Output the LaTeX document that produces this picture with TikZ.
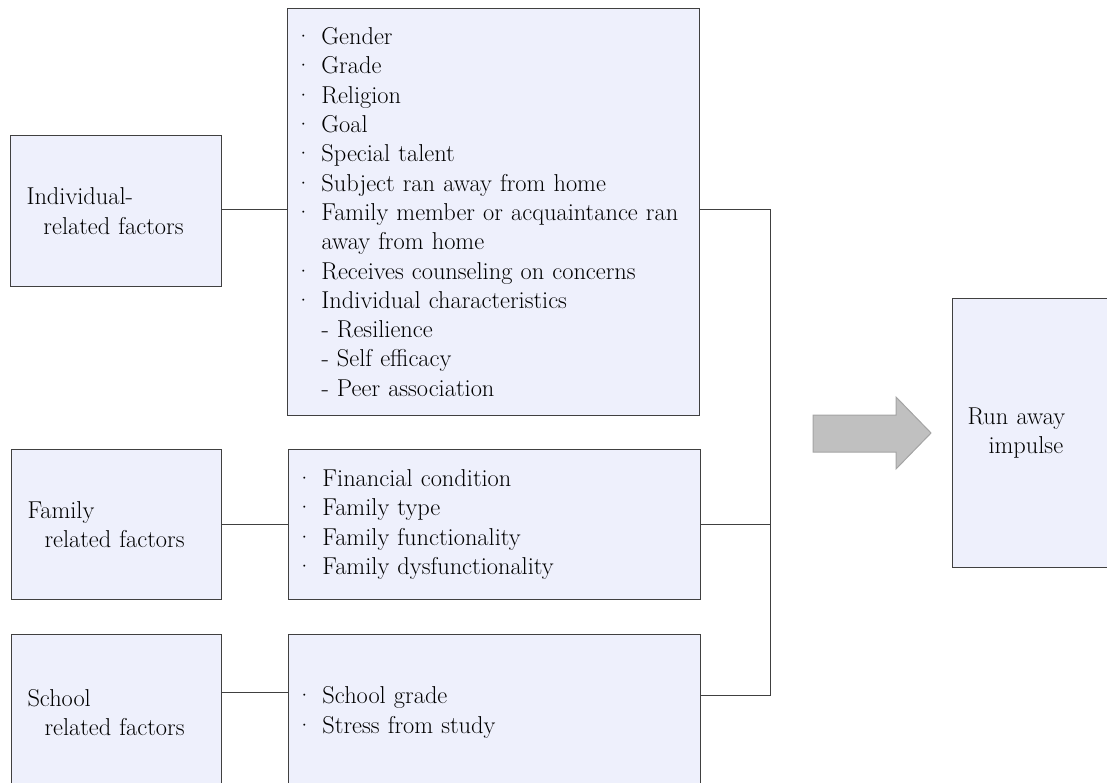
\documentclass[tikz,border=0pt]{standalone}
\definecolor{boxfill}{HTML}{EEF0FC}
\definecolor{boxline}{HTML}{404040}
\definecolor{arrowfill}{HTML}{C0C0C0}
\definecolor{arrowline}{HTML}{A4A4A4}
\newcommand{\itm}[1]{\makebox[4pt][c]{\textperiodcentered}\hspace{16pt}#1}
\newcommand{\subitm}[1]{\hspace*{20pt}#1}
\tikzset{factor box/.style={
		draw=boxline, fill=boxfill, line width=1pt,
		anchor=north west, align=left,
		inner xsep=16pt, inner ysep=0pt,
		font=\fontsize{24.4}{29.3}\selectfont
	},
	list box/.style={factor box, inner xsep=14pt, text width=384pt}
}

\begin{document}
\begin{tikzpicture}[x=1pt, y=-1pt]
		\useasboundingbox (0,0) rectangle (1107,783);
		% left column
		\node [factor box, text width=179pt, minimum height=151pt] (ind) at (10,135) {Individual-\\\hspace*{17pt}related factors};
		\node [factor box, text width=178pt, minimum height=150pt] (fam) at (11,449) {Family\\\hspace*{17pt}related factors};
		\node [factor box, text width=178pt, minimum height=156pt] (sch) at (11,634) {School\\\hspace*{17pt}related factors};
		% lists
		\node [list box, minimum height=407pt] (indlist) at (287,8) {\itm{Gender}\\\itm{Grade}\\\itm{Religion}\\\itm{Goal}\\\itm{Special talent}\\\itm{Subject ran away from home}\\\itm{Family member or acquaintance ran}\\\subitm{away from home}\\\itm{Receives counseling on concerns}\\\itm{Individual characteristics}\\\subitm{- Resilience}\\\subitm{- Self efficacy}\\\subitm{- Peer association}};
		\node [list box, minimum height=150pt] (famlist) at (288,449) {\itm{Financial condition}\\\itm{Family type}\\\itm{Family functionality}\\\itm{Family dysfunctionality}};
		\node [list box, minimum height=156pt] (schlist) at (288,634) {\itm{School grade}\\\itm{Stress from study}};
		% outcome
		\node [factor box, inner xsep=15pt, text width=140pt, minimum height=269pt] (run) at (952,298) {Run away\\\hspace*{21pt}impulse};
		\coordinate (jtop) at (770,210);
		\coordinate (jbot) at (770,695);
		\coordinate (schmid) at (0,692);
		\draw [boxline, line width=1pt] (ind.east |- jtop) -- (indlist.west |- jtop);
		\draw [boxline, line width=1pt] (fam.east) -- (famlist.west |- fam.east);
		\draw [boxline, line width=1pt] (sch.east |- schmid) -- (schlist.west |- schmid);
		\draw [boxline, line width=1pt] (indlist.east |- jtop) -- (jtop) -- (jbot) -- (schlist.east |- jbot);
		\draw [boxline, line width=1pt] (famlist.east |- fam.east) -- (jtop |- fam.east);
		% block arrow
		\draw [arrowline, fill=arrowfill, line width=1pt, line join=miter] (813,415) -- (896,415) -- (896,397) -- (931,433) -- (896,469) -- (896,452) -- (813,452) -- cycle;
	\end{tikzpicture}
\end{document}
